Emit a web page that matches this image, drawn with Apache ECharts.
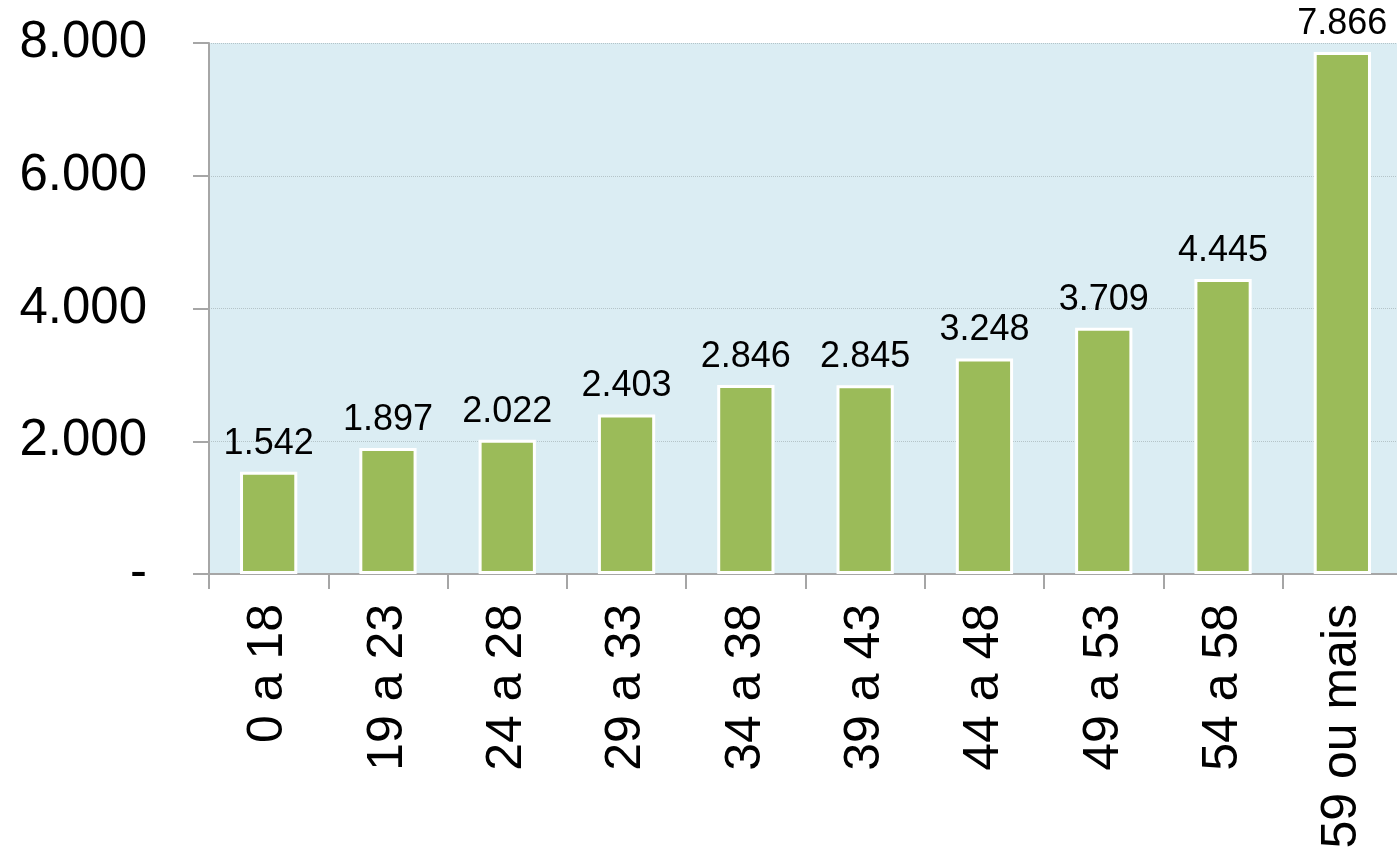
<!DOCTYPE html>
<html>
<head>
<meta charset="utf-8">
<title>Faixa etária</title>
<script src="https://cdn.jsdelivr.net/npm/echarts@6/dist/echarts.min.js"></script>
<style>
  html, body { margin: 0; padding: 0; background: #fff; }
  #chart { width: 1397px; height: 850px; }
</style>
</head>
<body>
<div id="chart"></div>
<script>
// faixas etárias e valores
const categories = ['0 a 18', '19 a 23', '24 a 28', '29 a 33', '34 a 38', '39 a 43', '44 a 48', '49 a 53', '54 a 58', '59 ou mais']
const values = [1542, 1897, 2022, 2403, 2846, 2845, 3248, 3709, 4445, 7866]
const yTicks = [0, 2000, 4000, 6000, 8000]

// formato pt-BR: 1.542, e "-" para zero
function fmt(v) {
  if (v === 0) return '-'
  return String(v).replace(/\B(?=(\d{3})+(?!\d))/g, '.')
}

const chart = echarts.init(document.getElementById('chart'))
chart.setOption({
  animation: false,
  textStyle: { fontFamily: 'Liberation Sans, Arial, sans-serif' },
  grid: {
    left: 209,
    top: 43,
    width: 1193,   // a área do gráfico passa um pouco da borda direita
    bottom: 276,
    outerBoundsMode: 'none',
    show: true,
    backgroundColor: '#DBEDF3',
    borderWidth: 0
  },
  xAxis: {
    type: 'category',
    data: categories,
    axisLine: { lineStyle: { color: '#A6A6A6', width: 2 } },
    axisTick: { show: true, length: 15, lineStyle: { color: '#A6A6A6', width: 2 } },
    axisLabel: {
      rotate: 90,
      margin: 30,
      fontSize: 50,
      color: '#000'
    }
  },
  yAxis: {
    type: 'value',
    min: yTicks[0],
    max: yTicks[yTicks.length - 1],
    interval: 2000,
    axisLine: { show: true, lineStyle: { color: '#A6A6A6', width: 2 } },
    axisTick: { show: true, length: 16, lineStyle: { color: '#A6A6A6', width: 2 } },
    axisLabel: {
      margin: 62,
      fontSize: 51,
      color: '#000',
      formatter: fmt
    },
    splitLine: { show: true, lineStyle: { color: '#B5C4C8', type: 'dotted', width: 1 } }
  },
  series: [
    {
      type: 'bar',
      data: values,
      barWidth: '48%',
      itemStyle: {
        color: '#9BBB59',
        borderColor: '#FFFFFF',
        borderWidth: 3
      },
      label: {
        show: true,
        position: 'top',
        distance: 10,
        fontSize: 36,
        color: '#000',
        formatter: p => fmt(p.value)
      }
    }
  ]
})
</script>
</body>
</html>
